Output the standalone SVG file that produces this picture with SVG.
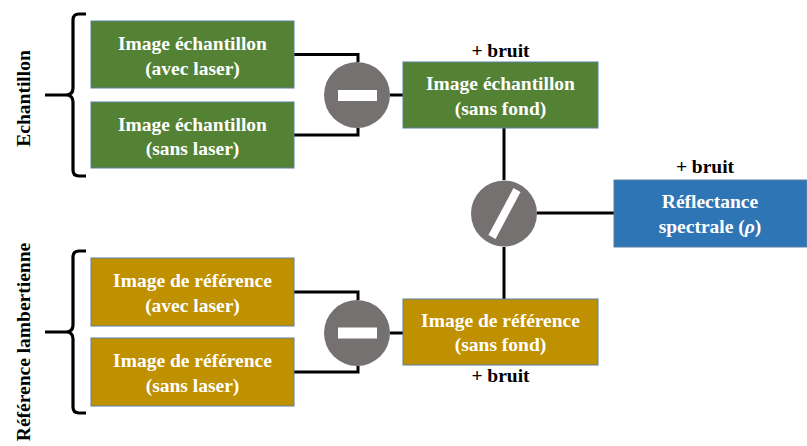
<svg xmlns="http://www.w3.org/2000/svg" width="807" height="446" viewBox="0 0 807 446">
<style>
.box{stroke:#5a7ea6;stroke-width:1}
.g{fill:#548235}.y{fill:#bf9000}.b{fill:#2e75b6}
.t{fill:#ffffff}
.k{fill:#000000}
.op{fill:#757171}
.ln{fill:none;stroke:#000;stroke-width:3}
.br{fill:none;stroke:#000;stroke-width:3.2}
</style>
<rect width="807" height="446" fill="#ffffff"/>
<g id="connectors">
<polyline class="ln" points="294,54.5 358,54.5 358,62"/>
<polyline class="ln" points="294,135 358,135 358,128"/>
<line class="ln" x1="390" y1="95" x2="403" y2="95"/>
<line class="ln" x1="504" y1="128" x2="504" y2="180"/>
<line class="ln" x1="537" y1="213" x2="614" y2="213"/>
<line class="ln" x1="504" y1="247" x2="504" y2="299"/>
<polyline class="ln" points="294,292 358,292 358,300"/>
<polyline class="ln" points="294,372 358,372 358,366"/>
<line class="ln" x1="390" y1="333" x2="403" y2="333"/>
</g>
<g font-family="Liberation Serif" font-weight="bold" font-size="19.5" text-anchor="middle">
<g id="brace-echantillon">
<path class="br" d="M86,14 L79,14 Q73,14 73,20 L73,88 Q73,95 66,95 L45,95 M66,95 Q73,95 73,102 L73,170 Q73,176 79,176 L86,176"/>
<text class="k" transform="translate(30,98.5) rotate(-90)">Echantillon</text>
</g>
<g id="brace-reference">
<path class="br" d="M86,251 L79,251 Q73,251 73,257 L73,325 Q73,332 66,332 L45,332 M66,332 Q73,332 73,339 L73,407 Q73,413 79,413 L86,413"/>
<text class="k" transform="translate(30,342) rotate(-90)">Référence lambertienne</text>
</g>
<g id="ech-avec">
<rect class="box g" x="91" y="21" width="203" height="67"/>
<text class="t" x="192.5" y="50">Image échantillon</text>
<text class="t" x="192.5" y="74.5">(avec laser)</text>
</g>
<g id="ech-sans">
<rect class="box g" x="91" y="102" width="203" height="66"/>
<text class="t" x="192.5" y="130.5">Image échantillon</text>
<text class="t" x="192.5" y="155">(sans laser)</text>
</g>
<g id="minus-top">
<circle class="op" cx="357" cy="95" r="33"/>
<rect x="338" y="90" width="39" height="11" fill="#ffffff"/>
</g>
<g id="ech-sansfond">
<rect class="box g" x="403" y="62" width="195" height="66"/>
<text class="t" x="500.5" y="90">Image échantillon</text>
<text class="t" x="500.5" y="114.5">(sans fond)</text>
<text class="k" x="500.5" y="56.5">+ bruit</text>
</g>
<g id="divide">
<circle class="op" cx="504" cy="213.5" r="33"/>
<line x1="492" y1="237" x2="517" y2="190" stroke="#ffffff" stroke-width="8"/>
</g>
<g id="reflectance">
<rect class="box b" x="614" y="180" width="193" height="67"/>
<text class="t" x="710" y="208">Réflectance</text>
<text class="t" x="710" y="233">spectrale (<tspan font-style="italic">ρ</tspan>)</text>
<text class="k" x="705" y="173">+ bruit</text>
</g>
<g id="ref-avec">
<rect class="box y" x="91" y="258" width="203" height="68"/>
<text class="t" x="192.5" y="287">Image de référence</text>
<text class="t" x="192.5" y="311.5">(avec laser)</text>
</g>
<g id="ref-sans">
<rect class="box y" x="91" y="338" width="203" height="68"/>
<text class="t" x="192.5" y="367">Image de référence</text>
<text class="t" x="192.5" y="391.5">(sans laser)</text>
</g>
<g id="minus-bottom">
<circle class="op" cx="357" cy="333" r="33"/>
<rect x="338" y="327.5" width="39" height="11" fill="#ffffff"/>
</g>
<g id="ref-sansfond">
<rect class="box y" x="403" y="299" width="195" height="66"/>
<text class="t" x="500.5" y="327">Image de référence</text>
<text class="t" x="500.5" y="351">(sans fond)</text>
<text class="k" x="500.5" y="382">+ bruit</text>
</g>
</g>
</svg>
